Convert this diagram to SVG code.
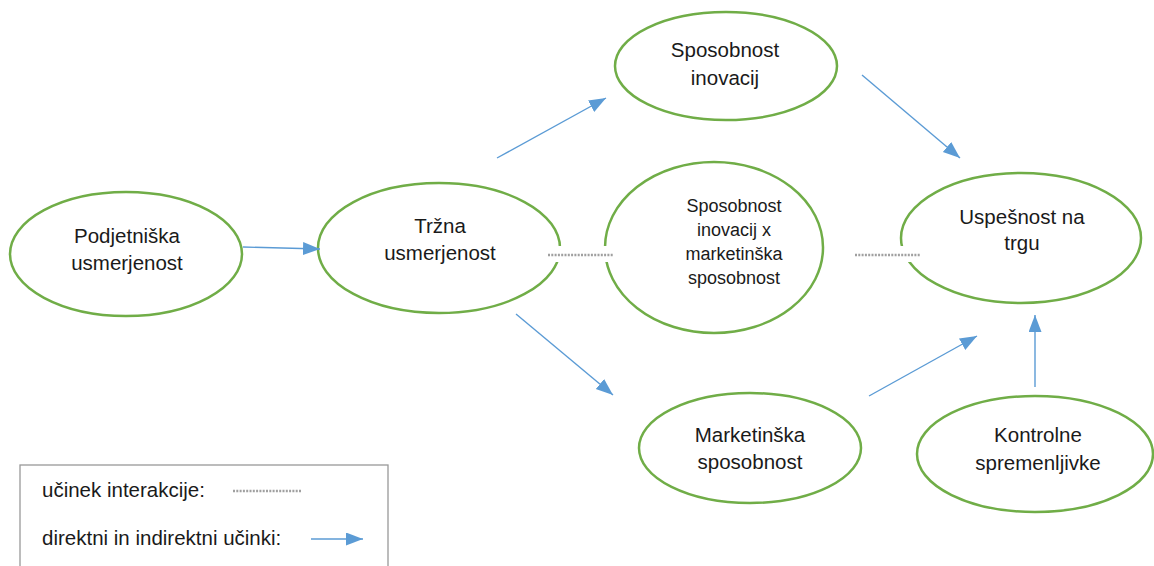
<svg xmlns="http://www.w3.org/2000/svg" width="1154" height="566" viewBox="0 0 1154 566">
<defs>
<marker id="ah" markerUnits="userSpaceOnUse" markerWidth="18" markerHeight="14" refX="17" refY="6.5" orient="auto">
<path d="M0,0 L17,6.5 L0,13 z" fill="#5b9bd5"/>
</marker>
<style>
.node ellipse{fill:#fff;stroke:#70ad47;stroke-width:2.5}
text{font-family:"Liberation Sans",Arial,sans-serif;fill:#1a1a1a;text-anchor:middle}
.t{font-size:20.5px}
.s{font-size:18px}
.arr{stroke:#5b9bd5;stroke-width:1.4;fill:none;marker-end:url(#ah)}
.dot{stroke:#a0a0a0;stroke-width:2.5;stroke-dasharray:2 1.3;fill:none}
.gap{stroke:#fff;stroke-width:16;fill:none}
</style>
</defs>
<rect width="1154" height="566" fill="#fff"/>
<g id="n1" class="node"><ellipse cx="126" cy="254" rx="116" ry="62"/><text class="t" x="127" y="243">Podjetniška</text><text class="t" x="127" y="270">usmerjenost</text></g>
<g id="n2" class="node"><ellipse cx="439" cy="248" rx="121" ry="65"/><text class="t" x="440" y="233">Tržna</text><text class="t" x="440" y="260">usmerjenost</text></g>
<g id="n3" class="node"><ellipse cx="726" cy="66" rx="111" ry="54"/><text class="t" x="725" y="57">Sposobnost</text><text class="t" x="725" y="85">inovacij</text></g>
<g id="n4" class="node"><ellipse cx="714" cy="247.5" rx="109" ry="85.5"/><text class="s" x="734" y="212">Sposobnost</text><text class="s" x="734" y="236">inovacij x</text><text class="s" x="734" y="260">marketinška</text><text class="s" x="734" y="284">sposobnost</text></g>
<g id="n5" class="node"><ellipse cx="1021" cy="238" rx="120" ry="65"/><text class="t" x="1022" y="224">Uspešnost na</text><text class="t" x="1022" y="250">trgu</text></g>
<g id="n6" class="node"><ellipse cx="750" cy="448" rx="111" ry="55"/><text class="t" x="750" y="442">Marketinška</text><text class="t" x="750" y="469">sposobnost</text></g>
<g id="n7" class="node"><ellipse cx="1035" cy="454" rx="118" ry="58"/><text class="t" x="1038" y="442">Kontrolne</text><text class="t" x="1038" y="470">spremenljivke</text></g>
<g id="connectors">
<line class="arr" x1="243" y1="247" x2="320" y2="249"/>
<line class="arr" x1="497" y1="158" x2="606" y2="98"/>
<line class="arr" x1="516" y1="314" x2="613" y2="395"/>
<line class="arr" x1="862" y1="75" x2="960" y2="158"/>
<line class="arr" x1="869" y1="396" x2="977" y2="336"/>
<line class="arr" x1="1035" y1="387" x2="1035" y2="315"/>
<line class="gap" x1="552" y1="254" x2="612" y2="254"/>
<line class="dot" x1="548" y1="255" x2="613" y2="255"/>
<line class="gap" x1="856" y1="254" x2="919" y2="254"/>
<line class="dot" x1="855" y1="255" x2="920" y2="255"/>
</g>
<g id="legend">
<rect x="20" y="465" width="368" height="110" fill="#fff" stroke="#999" stroke-width="1.3"/>
<text class="t" x="42" y="497" style="text-anchor:start">učinek interakcije:</text>
<line class="dot" x1="233" y1="491" x2="302" y2="491"/>
<text class="t" x="42" y="545" style="text-anchor:start">direktni in indirektni učinki:</text>
<line class="arr" x1="311" y1="539" x2="363" y2="539"/>
</g>
</svg>
